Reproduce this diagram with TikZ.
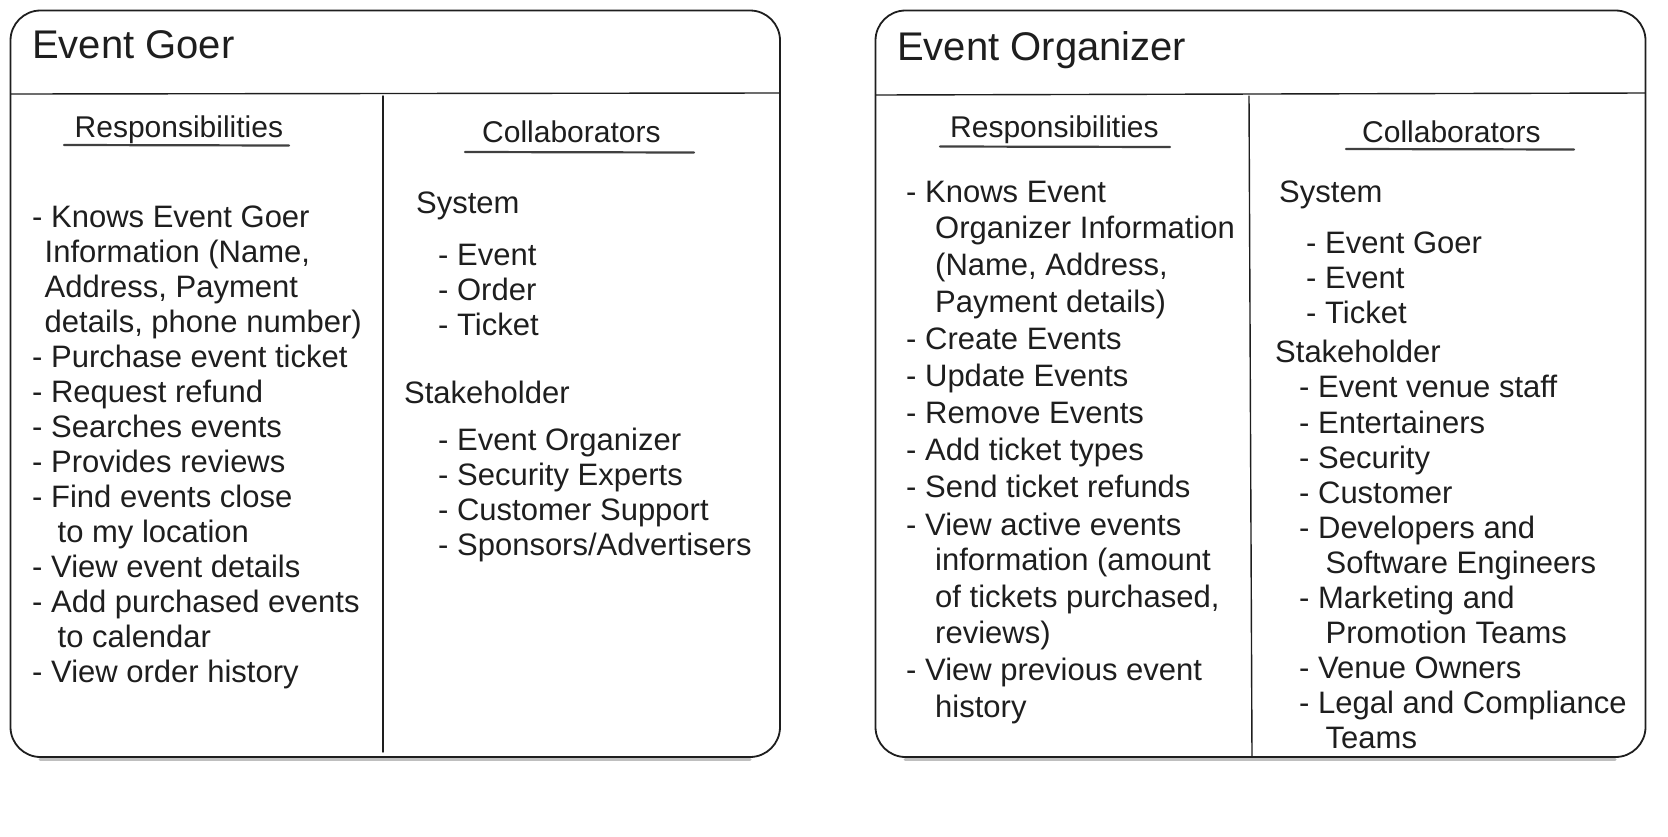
\documentclass[tikz,border=0pt]{standalone}
\usepackage{fontspec}
\setmainfont{Liberation Sans}
\definecolor{ink}{HTML}{1E1E1E}

\begin{document}
\begin{tikzpicture}[x=1pt, y=-1pt, line cap=round, line join=round,
  card/.style={draw=ink, line width=1.8pt, rounded corners=30pt},
  rule/.style={draw=ink, line width=1.4pt},
  uline/.style={draw=ink!85, line width=2.2pt},
  ttl/.style={anchor=base west, inner sep=0pt, text=ink, font=\fontsize{40}{48}\selectfont},
  head/.style={anchor=base west, inner sep=0pt, text=ink, font=\fontsize{30}{36}\selectfont},
  item/.style={anchor=base west, inner sep=0pt, yshift=-2pt, text=ink, font=\fontsize{31}{36}\selectfont}]

  %% ════ Event Goer card ════
  \draw[black!25, line width=3pt] (40,759) -- (750,759);   % 底边阴影
  \draw[card] (10.5,10.5) rectangle (780,757);
  \draw[rule] (11,94) -- (780,93);
  \draw[rule] (383,96) -- (383,752);

  \node[ttl] (goerTitle) at (32,58) {Event Goer};
  \node[head] (goerResp) at (74.5,137) {Responsibilities};
  \node[head] (goerColl) at (482,142.5) {Collaborators};
  \draw[uline] (64,145) -- (289,145.5);
  \draw[uline] (465,152) -- (694,152.5);

  %% responsibilities
  \node[item] (gr1)  at (32,225)   {- Knows Event Goer};
  \node[item] (gr2)  at (44.5,260) {Information (Name,};
  \node[item] (gr3)  at (44.5,295) {Address, Payment};
  \node[item] (gr4)  at (44.5,330) {details, phone number)};
  \node[item] (gr5)  at (32,365)   {- Purchase event ticket};
  \node[item] (gr6)  at (32,400)   {- Request refund};
  \node[item] (gr7)  at (32,435)   {- Searches events};
  \node[item] (gr8)  at (32,470)   {- Provides reviews};
  \node[item] (gr9)  at (32,505)   {- Find events close};
  \node[item] (gr10) at (57.5,540) {to my location};
  \node[item] (gr11) at (32,575)   {- View event details};
  \node[item] (gr12) at (32,610)   {- Add purchased events};
  \node[item] (gr13) at (57.5,645) {to calendar};
  \node[item] (gr14) at (32,680)   {- View order history};

  %% collaborators
  \node[item] (gcSys)   at (416,211.5) {System};
  \node[item] (gc1)     at (438,263)   {- Event};
  \node[item] (gc2)     at (438,298)   {- Order};
  \node[item] (gc3)     at (438,333)   {- Ticket};
  \node[item] (gcStake) at (404,401.5) {Stakeholder};
  \node[item] (gc4)     at (438,448)   {- Event Organizer};
  \node[item] (gc5)     at (438,483)   {- Security Experts};
  \node[item] (gc6)     at (438,518)   {- Customer Support};
  \node[item] (gc7)     at (438,553)   {- Sponsors/Advertisers};

  %% ════ Event Organizer card ════
  \draw[black!25, line width=3pt] (905,759) -- (1615,759);
  \draw[card] (875.5,10.5) rectangle (1645.5,757);
  \draw[rule] (876,95) -- (1645,93);
  \draw[rule] (1249,96) -- (1252,757);

  \node[ttl] (orgTitle) at (897,60) {Event Organizer};
  \node[head] (orgResp) at (950,137.5) {Responsibilities};
  \node[head] (orgColl) at (1362,142.5) {Collaborators};
  \draw[uline] (940,146.5) -- (1170,147);
  \draw[uline] (1346,149) -- (1574,149.5);

  %% responsibilities
  \node[item] (or1)  at (906,200)   {- Knows Event};
  \node[item] (or2)  at (935,236.5) {Organizer Information};
  \node[item] (or3)  at (935,273)   {(Name, Address,};
  \node[item] (or4)  at (935,310)   {Payment details)};
  \node[item] (or5)  at (906,347.5) {- Create Events};
  \node[item] (or6)  at (906,384)   {- Update Events};
  \node[item] (or7)  at (906,421.5) {- Remove Events};
  \node[item] (or8)  at (906,458)   {- Add ticket types};
  \node[item] (or9)  at (906,495)   {- Send ticket refunds};
  \node[item] (or10) at (906,533)   {- View active events};
  \node[item] (or11) at (935,568.5) {information (amount};
  \node[item] (or12) at (935,605)   {of tickets purchased,};
  \node[item] (or13) at (935,641.5) {reviews)};
  \node[item] (or14) at (906,678.5) {- View previous event};
  \node[item] (or15) at (935,715)   {history};

  %% collaborators
  \node[item] (ocSys)   at (1279,200)   {System};
  \node[item] (oc1)     at (1306,251.5) {- Event Goer};
  \node[item] (oc2)     at (1306,286.5) {- Event};
  \node[item] (oc3)     at (1306,321.5) {- Ticket};
  \node[item] (ocStake) at (1275,360)   {Stakeholder};
  \node[item] (oc4)     at (1299,395)   {- Event venue staff};
  \node[item] (oc5)     at (1299,431.5) {- Entertainers};
  \node[item] (oc6)     at (1299,466.5) {- Security};
  \node[item] (oc7)     at (1299,501.5) {- Customer};
  \node[item] (oc8)     at (1299,536.5) {- Developers and};
  \node[item] (oc9)     at (1325.5,571.5) {Software Engineers};
  \node[item] (oc10)    at (1299,606.5) {- Marketing and};
  \node[item] (oc11)    at (1325.5,641.5) {Promotion Teams};
  \node[item] (oc12)    at (1299,676.5) {- Venue Owners};
  \node[item] (oc13)    at (1299,711.5) {- Legal and Compliance};
  \node[item] (oc14)    at (1325.5,746.5) {Teams};

  % 钉死画布
  \pgfresetboundingbox
  \path[use as bounding box] (0,0) rectangle (1668,836);
\end{tikzpicture}
\end{document}
